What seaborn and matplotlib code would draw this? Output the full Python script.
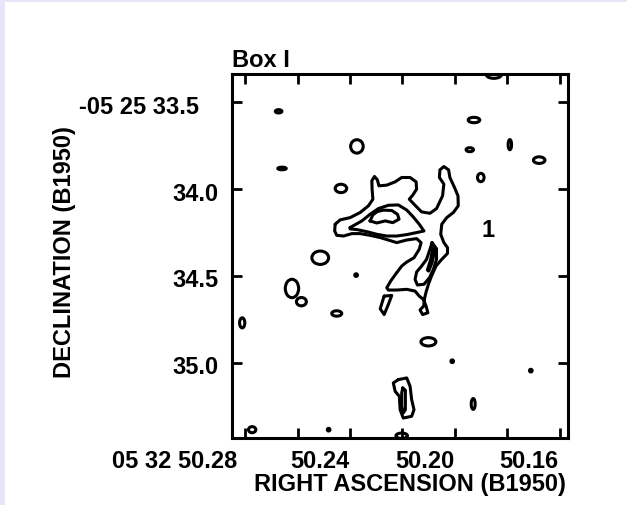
import matplotlib
matplotlib.use("Agg")
import matplotlib.pyplot as plt
from matplotlib.patches import Ellipse, Rectangle
import seaborn as sns

# ---- axis ticks (B1950; RA in seconds of time, Dec in arcsec) ----
ra_ticks = [50.26, 50.24, 50.22, 50.20, 50.18, 50.16, 50.14]
ra_label_values = [50.28, 50.24, 50.20, 50.16]
ra_labels = ["05 32 50.28", "50.24", "50.20", "50.16"]
dec_ticks = [33.5, 34.0, 34.5, 35.0]
dec_labels = ["-05 25 33.5", "34.0", "34.5", "35.0"]

# ---- lowest contour around the main emission complex ----
outer_ra = [50.2257, 50.2238, 50.2200, 50.2162, 50.2130, 50.2113, 50.2116, 50.2117,
            50.2107, 50.2096, 50.2090, 50.2060, 50.2028, 50.2003, 50.1971, 50.1948,
            50.1946, 50.1961, 50.1974, 50.1952, 50.1927, 50.1895, 50.1870, 50.1847,
            50.1842, 50.1859, 50.1857, 50.1842, 50.1824, 50.1819, 50.1803, 50.1788,
            50.1787, 50.1806, 50.1831, 50.1850, 50.1854, 50.1842, 50.1828, 50.1828,
            50.1850, 50.1872, 50.1889, 50.1901, 50.1910, 50.1916, 50.1919, 50.1933,
            50.1923, 50.1903, 50.1910, 50.1920, 50.1936, 50.1952, 50.1984, 50.2022,
            50.2054, 50.2060, 50.2045, 50.2024, 50.2003, 50.1984, 50.1956, 50.1936,
            50.1929, 50.1946, 50.1984, 50.2022, 50.2054, 50.2085, 50.2124, 50.2162,
            50.2193, 50.2225, 50.2251, 50.2259]
outer_dec = [34.202, 34.177, 34.164, 34.135, 34.096, 34.058, 34.000, 33.952,
             33.927, 33.946, 33.981, 33.977, 33.958, 33.933, 33.933, 33.958,
             34.000, 34.035, 34.058, 34.093, 34.131, 34.139, 34.112, 34.039,
             33.971, 33.933, 33.889, 33.870, 33.889, 33.933, 33.985, 34.039,
             34.096, 34.135, 34.164, 34.202, 34.260, 34.308, 34.337, 34.370,
             34.404, 34.443, 34.500, 34.548, 34.593, 34.631, 34.673, 34.696,
             34.722, 34.712, 34.673, 34.635, 34.616, 34.587, 34.577, 34.581,
             34.581, 34.568, 34.529, 34.485, 34.443, 34.420, 34.395, 34.346,
             34.308, 34.285, 34.293, 34.308, 34.293, 34.279, 34.266, 34.256,
             34.256, 34.270, 34.266, 34.241]

# ---- second contour (wedge) ----
wedge_ra = [50.2200, 50.2155, 50.2124, 50.2092, 50.2054, 50.2016, 50.1984, 50.1959,
            50.1936, 50.1918, 50.1946, 50.1984, 50.2022, 50.2060, 50.2098, 50.2136,
            50.2174, 50.2200]
wedge_dec = [34.221, 34.183, 34.145, 34.112, 34.093, 34.091, 34.120, 34.160,
             34.202, 34.241, 34.250, 34.262, 34.270, 34.270, 34.260, 34.245,
             34.233, 34.229]

# ---- peak contour ----
peak_ra = [50.2124, 50.2113, 50.2096, 50.2073, 50.2041, 50.2019, 50.2013, 50.2037,
           50.2066, 50.2098]
peak_dec = [34.183, 34.148, 34.129, 34.121, 34.123, 34.145, 34.173, 34.193,
            34.183, 34.195]

# ---- second contour in the southern extension ----
south_ra = [50.1887, 50.1870, 50.1870, 50.1882, 50.1897, 50.1918, 50.1943, 50.1952,
            50.1946, 50.1927, 50.1908, 50.1895]
south_dec = [34.308, 34.343, 34.404, 34.462, 34.510, 34.548, 34.552, 34.520,
             34.477, 34.443, 34.404, 34.346]

# ---- narrow third contour in the southern extension ----
ridge_ra = [50.1881, 50.1876, 50.1887, 50.1900, 50.1905, 50.1892, 50.1885]
ridge_dec = [34.327, 34.350, 34.423, 34.472, 34.466, 34.404, 34.346]

# ---- thin filament south-west of the complex ----
strip_ra = [50.2070, 50.2041, 50.2054, 50.2070, 50.2085, 50.2075]
strip_dec = [34.616, 34.612, 34.664, 34.722, 34.689, 34.639]

# ---- elongated source near the southern edge ----
elong_ra = [50.2016, 50.1984, 50.1971, 50.1965, 50.1956, 50.1965, 50.1997, 50.2009,
            50.2012, 50.2028, 50.2035]
elong_dec = [35.097, 35.087, 35.135, 35.212, 35.270, 35.308, 35.318, 35.270,
             35.193, 35.164, 35.116]
elong_core_ra = [50.1999, 50.1989, 50.1989, 50.1997, 50.2003, 50.2003]
elong_core_dec = [35.145, 35.158, 35.270, 35.289, 35.251, 35.174]

# ---- compact knots: centre, extent in RA (s) and Dec (arcsec) ----
knot_ra = [50.2473, 50.2460, 50.2174, 50.1727, 50.1743, 50.1590, 50.1478, 50.1701,
           50.2235, 50.2314, 50.2177, 50.2422, 50.2386, 50.2251, 50.2612, 50.1901,
           50.1810, 50.1510, 50.1730, 50.2574, 50.2282, 50.2003, 50.1651]
knot_dec = [33.552, 33.881, 33.754, 33.602, 33.773, 33.744, 33.833, 33.933,
            33.996, 34.395, 34.495, 34.572, 34.648, 34.716, 34.770, 34.879,
            34.991, 35.045, 35.237, 35.385, 35.385, 35.420, 33.342]
knot_w = [0.0025, 0.0032, 0.0048, 0.0044, 0.0028, 0.0013, 0.0044, 0.0025,
          0.0044, 0.0064, 0.0010, 0.0051, 0.0038, 0.0038, 0.0020, 0.0057,
          0.0010, 0.0010, 0.0015, 0.0028, 0.0010, 0.0044, 0.0057]
knot_h = [0.019, 0.015, 0.077, 0.031, 0.023, 0.058, 0.038, 0.048,
          0.048, 0.077, 0.015, 0.106, 0.048, 0.031, 0.058, 0.048,
          0.015, 0.015, 0.062, 0.035, 0.015, 0.031, 0.040]

source_ra, source_dec, source_name = 50.1674, 34.231, "1"

# ---- styling ----
INK = "black"
sns.set_theme(style="ticks", rc={"text.color": INK, "axes.labelcolor": INK,
                                 "xtick.color": INK, "ytick.color": INK,
                                 "axes.edgecolor": INK})
plt.rcParams["font.family"] = ["Liberation Sans", "DejaVu Sans"]
plt.rcParams["font.weight"] = "bold"
FS = 17
LW = 2.2

fig = plt.figure(figsize=(6.27, 5.06), dpi=100)
fig.patch.set_facecolor("white")
fig.patches.append(Rectangle((0, 0), 5 / 627, 1, transform=fig.transFigure,
                             facecolor="#e6e6f8", edgecolor="none", zorder=-1))
fig.patches.append(Rectangle((0, 1 - 3 / 506), 1, 3 / 506, transform=fig.transFigure,
                             facecolor="#e6e6f8", edgecolor="none", zorder=-1))

ax = fig.add_axes([0.370, 0.1324, 0.5359, 0.7194])
ax.set_facecolor("white")


def contour_line(ra, dec):
    xs = list(ra) + [ra[0]]
    ys = list(dec) + [dec[0]]
    sns.lineplot(x=xs, y=ys, sort=False, estimator=None, color=INK,
                 linewidth=LW, ax=ax, legend=False)


for ra, dec in [(outer_ra, outer_dec), (wedge_ra, wedge_dec), (peak_ra, peak_dec),
                (south_ra, south_dec), (ridge_ra, ridge_dec), (strip_ra, strip_dec),
                (elong_ra, elong_dec), (elong_core_ra, elong_core_dec)]:
    contour_line(ra, dec)

for r, d, w, h in zip(knot_ra, knot_dec, knot_w, knot_h):
    ax.add_patch(Ellipse((r, d), w, h, fill=False, edgecolor=INK, linewidth=LW))

ax.text(source_ra, source_dec, source_name, ha="center", va="center",
        fontsize=FS, fontweight="bold", color=INK)

ax.set_xlim(50.2651, 50.1368)
ax.set_ylim(35.433, 33.337)
ax.set_xlabel("")
ax.set_ylabel("")

ax.set_xticks(ra_ticks)
ax.set_xticklabels([])
ax.set_yticks(dec_ticks)
ax.set_yticklabels([])
ax.tick_params(direction="in", length=7, width=2.0, color=INK,
               top=True, right=True, bottom=True, left=True)
for sp in ax.spines.values():
    sp.set_visible(True)
    sp.set_linewidth(2.2)
    sp.set_color(INK)

# RA labels sit slightly right of their ticks
for i, (val, lab) in enumerate(zip(ra_label_values, ra_labels)):
    if i == 0:
        ax.annotate(lab, xy=(val, 0), xycoords=("data", "axes fraction"),
                    xytext=(44, -22), textcoords="offset pixels", ha="right",
                    va="center", fontsize=FS, fontweight="bold", color=INK,
                    annotation_clip=False)
    else:
        ax.annotate(lab, xy=(val, 0), xycoords=("data", "axes fraction"),
                    xytext=(22, -22), textcoords="offset pixels", ha="center",
                    va="center", fontsize=FS, fontweight="bold", color=INK,
                    annotation_clip=False)

for i, (val, lab) in enumerate(zip(dec_ticks, dec_labels)):
    dx = -33 if i == 0 else -13
    ax.annotate(lab, xy=(0, val), xycoords=("axes fraction", "data"),
                xytext=(dx, -4), textcoords="offset pixels", ha="right",
                va="center", fontsize=FS, fontweight="bold", color=INK,
                annotation_clip=False)

fig.text(410 / 627, 1 - 485 / 506, "RIGHT ASCENSION (B1950)", ha="center",
         va="center", fontsize=FS, fontweight="bold", color=INK)
fig.text(65 / 627, 1 - 252 / 506, "DECLINATION (B1950)", ha="center",
         va="center", rotation=90, fontsize=FS, fontweight="bold", color=INK)
fig.text(232 / 627, 1 - 67 / 506, "Box I", ha="left", va="baseline",
         fontsize=FS, fontweight="bold", color=INK)

fig.savefig("out.png", dpi=100)
